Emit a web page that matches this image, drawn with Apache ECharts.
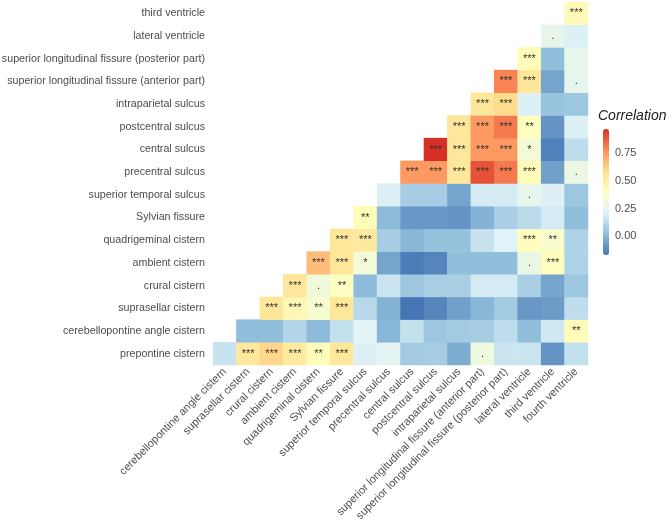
<!DOCTYPE html>
<html>
<head>
<meta charset="utf-8">
<script src="https://cdn.jsdelivr.net/npm/echarts@6/dist/echarts.min.js"></script>
<style>
html,body{margin:0;padding:0;background:#fff;}
#main{width:669px;height:523px;}
</style>
</head>
<body>
<div id="main"></div>
<script>
// column variables (x axis)
var xLabels = ['cerebellopontine angle cistern','suprasellar cistern','crural cistern','ambient cistern',
  'quadrigeminal cistern','Sylvian fissure','superior temporal sulcus','precentral sulcus','central sulcus',
  'postcentral sulcus','intraparietal sulcus','superior longitudinal fissure (anterior part)',
  'superior longitudinal fissure (posterior part)','lateral ventricle','third ventricle','fourth ventricle'];
// row variables (y axis, bottom to top)
var yLabels = ['prepontine cistern','cerebellopontine angle cistern','suprasellar cistern','crural cistern',
  'ambient cistern','quadrigeminal cistern','Sylvian fissure','superior temporal sulcus','precentral sulcus',
  'central sulcus','postcentral sulcus','intraparietal sulcus','superior longitudinal fissure (anterior part)',
  'superior longitudinal fissure (posterior part)','lateral ventricle','third ventricle'];

// correlations, row r starts at column r
var corrValues = [
  [0.15, 0.54, 0.61, 0.52, 0.42, 0.54, 0.20, 0.23, 0.06, 0.07, -0.03, 0.30, 0.16, 0.16, -0.09, 0.14],
  [0.02, 0.02, 0.10, 0.01, 0.14, 0.22, 0.00, 0.14, 0.05, 0.06, 0.07, 0.13, 0.02, 0.17, 0.42],
  [0.55, 0.45, 0.35, 0.55, 0.11, -0.01, -0.17, -0.13, -0.06, 0.00, 0.06, -0.08, -0.07, 0.13],
  [0.55, 0.31, 0.39, 0.01, 0.16, 0.05, 0.08, 0.08, 0.18, 0.18, 0.08, -0.05, 0.05],
  [0.67, 0.55, 0.32, -0.05, -0.15, -0.13, 0.02, 0.02, 0.02, 0.27, 0.41, 0.09],
  [0.55, 0.53, 0.07, 0.00, 0.03, 0.03, 0.15, 0.21, 0.41, 0.36, 0.09],
  [0.42, 0.01, -0.08, -0.08, -0.09, -0.01, 0.08, 0.12, 0.18, 0.02],
  [0.20, 0.07, 0.07, -0.05, 0.18, 0.18, 0.25, 0.20, 0.05],
  [0.75, 0.75, 0.55, 0.90, 0.82, 0.42, -0.06, 0.28],
  [0.97, 0.55, 0.75, 0.75, 0.32, -0.14, 0.13],
  [0.55, 0.75, 0.82, 0.40, -0.09, 0.20],
  [0.55, 0.60, 0.20, 0.04, 0.05],
  [0.80, 0.55, -0.05, 0.25],
  [0.42, 0.02, 0.25],
  [0.26, 0.20],
  [0.43]
];
var sigStars = [
  ['','***','***','***','**','***','','','','','','.','','','',''],
  ['','','','','','','','','','','','','','','**'],
  ['***','***','**','***','','','','','','','','','',''],
  ['***','.','**','','','','','','','','','','',''],
  ['***','***','*','','','','','','','.','***',''],
  ['***','***','','','','','','','***','**',''],
  ['**','','','','','','','','',''],
  ['','','','','','','.','',''],
  ['***','***','***','***','***','***','','.'],
  ['***','***','***','***','*','',''],
  ['***','***','***','**','',''],
  ['***','***','','',''],
  ['***','***','','.'],
  ['***','',''],
  ['.',''],
  ['***']
];
var legendTicks = [0.00, 0.25, 0.50, 0.75];
var colMin = -0.17, colMax = 0.97;

var data = [];
for (var r = 0; r < corrValues.length; r++) {
  for (var k = 0; k < corrValues[r].length; k++) {
    data.push([r + k, r, corrValues[r][k], sigStars[r][k]]);
  }
}

var barTop = 129, barH = 126, barLeft = 603;
var graphics = [{
  type: 'text', left: 598, top: 109,
  style: {text: 'Correlation', font: 'italic 14px "Liberation Sans", Arial, sans-serif', fill: '#222'}
}];
legendTicks.forEach(function (v) {
  var y = barTop + barH * (colMax - v) / (colMax - colMin);
  graphics.push({
    type: 'text', x: 615, y: y,
    style: {text: v.toFixed(2), font: '11px "Liberation Sans", Arial, sans-serif', fill: '#4d4d4d', verticalAlign: 'middle'}
  });
});

var myChart = echarts.init(document.getElementById('main'));
var option = {
  backgroundColor: '#fff',
  animation: false,
  grid: {left: 213, right: 81, top: 2, bottom: 158, containLabel: false, outerBoundsMode: 'none'},
  xAxis: {
    type: 'category',
    data: xLabels,
    axisLine: {show: false},
    axisTick: {show: false},
    splitLine: {show: false},
    axisLabel: {
      rotate: 45, interval: 0, margin: 5,
      color: '#4d4d4d', fontSize: 11, fontFamily: '"Liberation Sans", Arial, sans-serif'
    }
  },
  yAxis: {
    type: 'category',
    data: yLabels,
    axisLine: {show: false},
    axisTick: {show: false},
    splitLine: {show: false},
    axisLabel: {
      interval: 0, margin: 8,
      color: '#4d4d4d', fontSize: 10.7, fontFamily: '"Liberation Sans", Arial, sans-serif'
    }
  },
  visualMap: {
    type: 'continuous',
    min: colMin, max: colMax,
    dimension: 2,
    calculable: false,
    showLabel: false,
    text: null,
    left: barLeft, top: barTop,
    itemWidth: 6, itemHeight: barH,
    padding: 0,
    inRange: {color: ['#4575b4','#91bfdb','#e0f3f8','#ffffbf','#fee090','#fc8d59','#d73027']}
  },
  graphic: graphics,
  series: [{
    type: 'heatmap',
    data: data,
    itemStyle: {borderWidth: 0},
    label: {
      show: true,
      color: '#333',
      fontSize: 11,
      fontFamily: '"Liberation Sans", Arial, sans-serif',
      formatter: function (p) { return p.value[3]; }
    },
    emphasis: {disabled: true}
  }]
};
myChart.setOption(option);
window.onresize = myChart.resize;
</script>
</body>
</html>
